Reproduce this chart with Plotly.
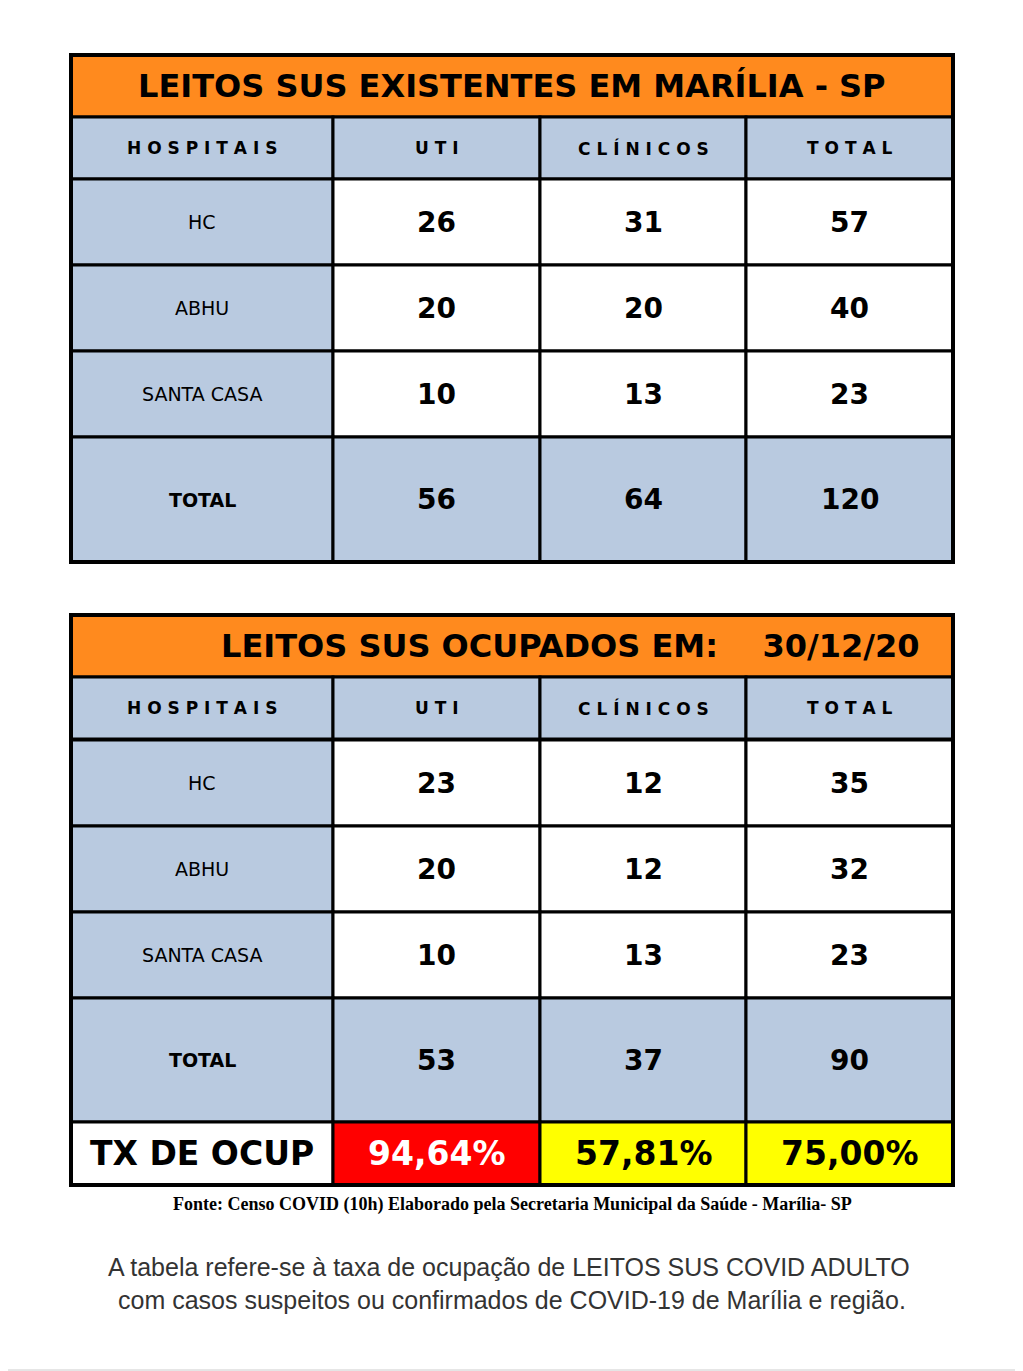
import plotly.graph_objects as go

headers = ["HOSPITAIS", "UTI", "CLÍNICOS", "TOTAL"]
hospitals = ["HC", "ABHU", "SANTA CASA", "TOTAL"]
exist_uti = [26, 20, 10, 56]
exist_cli = [31, 20, 13, 64]
exist_tot = [57, 40, 23, 120]
ocup_uti = [23, 20, 10, 53]
ocup_cli = [12, 12, 13, 37]
ocup_tot = [35, 32, 23, 90]
taxa_label = "TX DE OCUP"
taxa = ["94,64%", "57,81%", "75,00%"]
title1 = "LEITOS SUS EXISTENTES EM MARÍLIA - SP"
title2 = "LEITOS SUS OCUPADOS EM:    30/12/20"
fonte = "Fonte: Censo COVID (10h) Elaborado pela Secretaria Municipal da Saúde - Marília- SP"
nota = ["A tabela refere-se à taxa de ocupação de LEITOS SUS COVID ADULTO",
        "com casos suspeitos ou confirmados de COVID-19 de Marília e região."]

ORANGE = "#FF8A1E"; BLUE = "#B9CAE0"; RED = "#FF0000"; YEL = "#FFFF00"
FONT = "DejaVu Sans"
cols = [71, 333, 540, 746, 953]
shapes = []; ann = []

def rect(x0, y0, x1, y1, fill, w=3):
    shapes.append(dict(type="rect", x0=x0, x1=x1, y0=y0, y1=y1, fillcolor=fill,
                       line=dict(color="black", width=w), layer="below"))

def text(x, y, t, size, bold=False, color="black", family=FONT):
    ann.append(dict(x=x, y=y, text=f"<b>{t}</b>" if bold else t, showarrow=False,
                    font=dict(size=size, color=color, family=family), xanchor="center", yanchor="middle"))

def table(top, title, rows_y, uti, cli, tot, tx_row=None):
    rect(71, top, 953, top + 62, ORANGE)
    text(512 if title == title1 else 570, top + 31, title, 32, True)
    h0, h1 = top + 62, top + 124
    for i in range(4):
        rect(cols[i], h0, cols[i+1], h1, BLUE)
        text((cols[i] + cols[i+1]) / 2, (h0 + h1) / 2, " ".join(headers[i]), 17, True)
    for r in range(4):
        y0, y1 = rows_y[r], rows_y[r+1]
        total = r == 3
        vals = [hospitals[r], uti[r], cli[r], tot[r]]
        for i in range(4):
            fill = BLUE if (i == 0 or total) else "white"
            rect(cols[i], y0, cols[i+1], y1, fill)
            cx, cy = (cols[i] + cols[i+1]) / 2, (y0 + y1) / 2
            if i == 0:
                text(cx, cy, vals[i], 19, bold=total)
            else:
                text(cx, cy, str(vals[i]), 28, True)
    if tx_row:
        y0, y1 = tx_row
        rect(cols[0], y0, cols[1], y1, "white")
        text(202, (y0 + y1) / 2, taxa_label, 33, True)
        fills = [RED, YEL, YEL]; fc = ["white", "black", "black"]
        for i in range(3):
            rect(cols[i+1], y0, cols[i+2], y1, fills[i])
            text((cols[i+1] + cols[i+2]) / 2, (y0 + y1) / 2, taxa[i], 33, True, fc[i])
    bottom = tx_row[1] if tx_row else rows_y[-1]
    shapes.append(dict(type="rect", x0=71, x1=953, y0=top, y1=bottom, line=dict(color="black", width=4)))

shapes.append(dict(type="rect", x0=1, x1=1022, y0=1, y1=1370, line=dict(color="#CCCCCC", width=1), layer="below"))
table(55, title1, [179, 265, 351, 437, 562], exist_uti, exist_cli, exist_tot)
table(615, title2, [740, 826, 912, 998, 1122], ocup_uti, ocup_cli, ocup_tot, (1122, 1185))
text(512, 1204, fonte, 18, True, family="Liberation Sans Narrow")
text(509, 1267, nota[0], 25, color="#333333", family="Liberation Sans")
text(512, 1300, nota[1], 25, color="#333333", family="Liberation Sans")

fig = go.Figure()
fig.update_layout(width=1023, height=1371, margin=dict(l=0, r=0, t=0, b=0),
                  paper_bgcolor="white", plot_bgcolor="white", shapes=shapes, annotations=ann,
                  xaxis=dict(range=[8, 1031], visible=False, fixedrange=True),
                  yaxis=dict(range=[1379, 8], visible=False, fixedrange=True), showlegend=False)
fig.write_html("out.html")
